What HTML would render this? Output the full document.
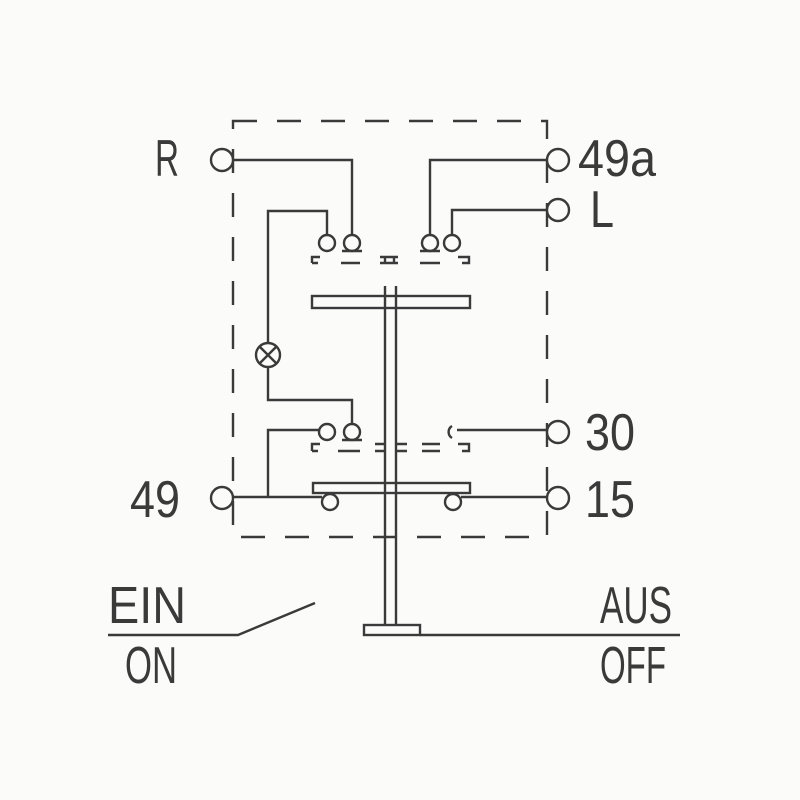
<!DOCTYPE html>
<html><head><style>body{margin:0;background:#fbfbfa}svg{display:block}</style></head><body>
<svg width="800" height="800" viewBox="0 0 800 800" xmlns="http://www.w3.org/2000/svg">
<rect width="800" height="800" fill="#fbfbfa"/>
<g stroke="#3a3a3a" stroke-width="2.4" fill="none">
<path d="M233 121 H547 V537 H233 Z" stroke-dasharray="24 20"/>
<circle cx="222" cy="160" r="11" fill="#fbfbfa"/>
<circle cx="558" cy="160" r="11" fill="#fbfbfa"/>
<circle cx="558" cy="210" r="11" fill="#fbfbfa"/>
<circle cx="558" cy="432" r="11" fill="#fbfbfa"/>
<circle cx="222" cy="498" r="11" fill="#fbfbfa"/>
<circle cx="558" cy="498" r="11" fill="#fbfbfa"/>
<path d="M233 160 H352 V236"/>
<path d="M547 160 H430 V236"/>
<path d="M547 210 H452 V236"/>
<path d="M327 236 V211 H268 V343"/>
<path d="M268 367 V400 H352 V423"/>
<path d="M319 430 H268 V497"/>
<path d="M233 497 H322"/>
<path d="M547 430 H457"/>
<path d="M547 497 H461"/>
<circle cx="268" cy="355" r="12"/>
<path d="M259 346 L277 364 M277 346 L259 364"/>
<circle cx="327" cy="243" r="8"/><circle cx="352" cy="243" r="8"/>
<circle cx="430" cy="243" r="8"/><circle cx="452" cy="243" r="8"/>
<path d="M342 251 H362 M420 251 H440"/>
<path d="M312 263 V257 H320 M312 263 H318 M341 263 H360 M380 263 H398 M385 257 V263 M394 257 V263 M380 257 H398 M420 263 H440 M458 257 H469 V263 H462"/>
<circle cx="327" cy="432" r="8"/><circle cx="352" cy="432" r="8"/>
<path d="M342 440 H362"/>
<path d="M452 426 A7 7 0 0 0 452 438"/>
<path d="M312 451 V444 H320 M312 451 H318 M338 451 H360 M375 444 H385 M375 451 H385 M396 444 H407 M396 451 H407 M422 444 H440 M422 451 H440 M458 444 H469 V451 H462"/>
<rect x="312" y="296" width="158" height="12" fill="#fbfbfa"/>
<rect x="313" y="483" width="157" height="10" fill="#fbfbfa"/>
<circle cx="330" cy="502" r="8"/><circle cx="453" cy="502" r="8"/>
<path d="M385 286 V625 M396 286 V625"/>
<rect x="364" y="625" width="56" height="10" fill="#fbfbfa"/>
<path d="M420 635 H680"/>
<path d="M108 635 H238 L315 603"/>
</g>
<g font-family="Liberation Sans, sans-serif" font-size="52" fill="#3a3a3a" font-weight="normal">
<text x="155" y="176" textLength="24" lengthAdjust="spacingAndGlyphs">R</text>
<text x="578" y="176" textLength="78" lengthAdjust="spacingAndGlyphs">49a</text>
<text x="590" y="227" textLength="24" lengthAdjust="spacingAndGlyphs">L</text>
<text x="585" y="450" textLength="50" lengthAdjust="spacingAndGlyphs">30</text>
<text x="130" y="517" textLength="50" lengthAdjust="spacingAndGlyphs">49</text>
<text x="585" y="517" textLength="50" lengthAdjust="spacingAndGlyphs">15</text>
<text x="108" y="623" textLength="78" lengthAdjust="spacingAndGlyphs">EIN</text>
<text x="125" y="683" textLength="52" lengthAdjust="spacingAndGlyphs">ON</text>
<text x="600" y="623" textLength="72" lengthAdjust="spacingAndGlyphs">AUS</text>
<text x="600" y="683" textLength="66" lengthAdjust="spacingAndGlyphs">OFF</text>
</g>
</svg>
</body></html>
